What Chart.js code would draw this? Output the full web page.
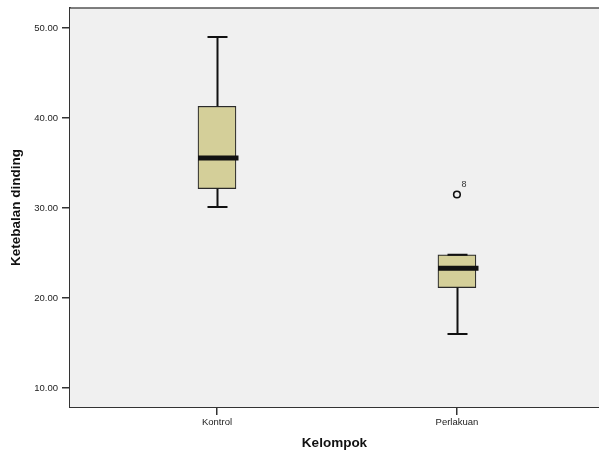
<!DOCTYPE html>
<html>
<head>
<meta charset="utf-8">
<script src="https://cdn.jsdelivr.net/npm/chart.js@4/dist/chart.umd.min.js"></script>
<style>
  html, body { margin: 0; padding: 0; background: #ffffff; }
  canvas { display: block; }
</style>
</head>
<body>
<canvas id="c" width="599" height="454"></canvas>
<script>
// ---- data ----
const categories   = ['Kontrol', 'Perlakuan'];
const whiskerLow   = [30.1, 16.0];
const q1           = [32.15, 21.15];
const median       = [35.55, 23.3];
const q3           = [41.3, 24.8];
const whiskerHigh  = [49.0, 24.8];
const outlierCat   = [1];
const outlierValue = [31.5];
const outlierLabel = ['8'];
const yTicks       = [10, 20, 30, 40, 50];
const yTitle = 'Ketebalan dinding';
const xTitle = 'Kelompok';

const FONT = "'Liberation Sans', Arial, Helvetica, sans-serif";

const boxData = categories.map((c, i) => ({ x: i, y: [q1[i], q3[i]] }));
const outData = outlierCat.map((c, i) => ({ x: c, y: outlierValue[i] }));

const boxPlugin = {
  id: 'boxPlugin',
  beforeDatasetsDraw(chart) {
    const { ctx, chartArea: a } = chart;
    ctx.save();
    ctx.fillStyle = '#f0f0f0';
    ctx.fillRect(a.left, a.top, a.right - a.left, a.bottom - a.top);
    ctx.strokeStyle = '#555555';
    ctx.lineWidth = 1.5;
    ctx.beginPath();
    ctx.moveTo(a.left, a.top);
    ctx.lineTo(a.right, a.top);
    ctx.stroke();
    ctx.restore();
  },
  afterDatasetsDraw(chart) {
    const { ctx } = chart;
    const xs = chart.scales.x, ys = chart.scales.y;
    ctx.save();
    ctx.strokeStyle = '#111111';
    ctx.lineCap = 'butt';
    categories.forEach((c, i) => {
      const cx = Math.round(xs.getPixelForValue(i)) + 0.5;
      const yq1 = ys.getPixelForValue(q1[i]);
      const yq3 = ys.getPixelForValue(q3[i]);
      const ylo = ys.getPixelForValue(whiskerLow[i]);
      const yhi = ys.getPixelForValue(whiskerHigh[i]);
      const ym  = ys.getPixelForValue(median[i]);
      // whiskers
      ctx.lineWidth = 2;
      ctx.beginPath();
      ctx.moveTo(cx, yq3); ctx.lineTo(cx, yhi);
      ctx.moveTo(cx, yq1); ctx.lineTo(cx, ylo);
      ctx.stroke();
      // caps
      ctx.beginPath();
      ctx.moveTo(cx - 10, yhi); ctx.lineTo(cx + 10, yhi);
      ctx.moveTo(cx - 10, ylo); ctx.lineTo(cx + 10, ylo);
      ctx.stroke();
      // median
      ctx.lineWidth = 5;
      ctx.beginPath();
      ctx.moveTo(cx - 19.5, ym); ctx.lineTo(cx + 21, ym);
      ctx.stroke();
    });
    // outlier labels
    ctx.fillStyle = '#333333';
    ctx.font = '9px ' + FONT;
    ctx.textAlign = 'left';
    ctx.textBaseline = 'middle';
    outlierCat.forEach((c, i) => {
      const px = xs.getPixelForValue(c);
      const py = ys.getPixelForValue(outlierValue[i]);
      ctx.fillText(outlierLabel[i], px + 4.5, py - 10);
    });
    ctx.restore();
  }
};

new Chart(document.getElementById('c'), {
  type: 'bar',
  data: {
    datasets: [
      {
        type: 'bar',
        data: boxData,
        backgroundColor: '#d4cf99',
        borderColor: '#2a2a2a',
        borderWidth: 1.2,
        borderSkipped: false,
        barThickness: 38,
        order: 2
      },
      {
        type: 'scatter',
        data: outData,
        pointStyle: 'circle',
        pointRadius: 3.3,
        pointBorderWidth: 1.6,
        pointBorderColor: '#111111',
        pointBackgroundColor: 'rgba(0,0,0,0)',
        order: 1
      }
    ]
  },
  options: {
    responsive: false,
    animation: false,
    devicePixelRatio: 1,
    layout: { autoPadding: false, padding: { top: 8, left: 0, right: 0, bottom: 0 } },
    plugins: { legend: { display: false }, tooltip: { enabled: false } },
    scales: {
      x: {
        type: 'linear',
        offset: false,
        min: -0.6125,
        max: 1.592,
        afterBuildTicks: (s) => { s.ticks = categories.map((c, i) => ({ value: i })); },
        afterFit: (s) => { s.height = 47; s.paddingLeft = 0; s.paddingRight = 0; },
        ticks: {
          autoSkip: false,
          maxRotation: 0,
          padding: 2,
          color: '#222222',
          font: { family: FONT, size: 9.5 },
          callback: (v) => categories[v]
        },
        grid: { drawOnChartArea: false, drawTicks: true, tickLength: 8, color: '#333333', lineWidth: 1.5, offset: false },
        border: { display: true, color: '#333333', width: 2 },
        title: {
          display: true, text: xTitle, color: '#111111',
          font: { family: FONT, size: 13.5, weight: 'bold' },
          padding: { top: 0, bottom: 3 }
        }
      },
      y: {
        type: 'linear',
        min: 7.89,
        max: 52.22,
        afterBuildTicks: (s) => { s.ticks = yTicks.map(v => ({ value: v })); },
        afterFit: (s) => { s.width = 70; s.paddingTop = 0; s.paddingBottom = 0; },
        ticks: {
          padding: 4,
          color: '#222222',
          font: { family: FONT, size: 9.5 },
          callback: (v) => Number(v).toFixed(2)
        },
        grid: { drawOnChartArea: false, drawTicks: true, tickLength: 8, color: '#333333', lineWidth: 1.5 },
        border: { display: true, color: '#333333', width: 2 },
        title: {
          display: true, text: yTitle, color: '#111111',
          font: { family: FONT, size: 13.5, weight: 'bold' },
          padding: { top: 8.5, bottom: 0 }
        }
      }
    }
  },
  plugins: [boxPlugin]
});
</script>
</body>
</html>
